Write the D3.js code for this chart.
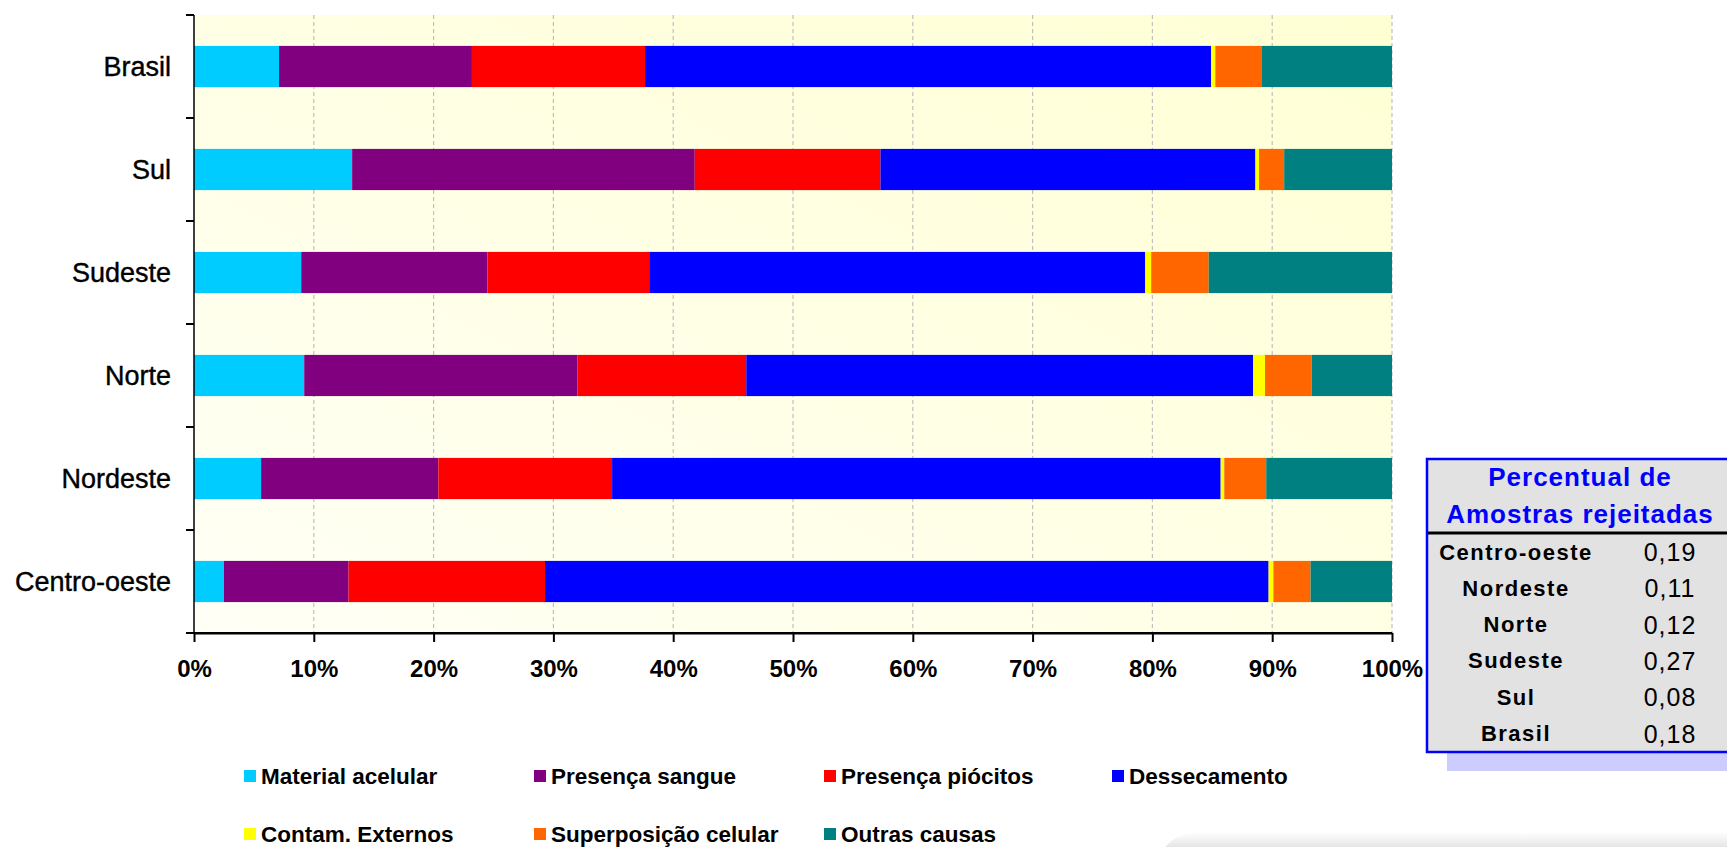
<!DOCTYPE html>
<html>
<head>
<meta charset="utf-8">
<script src="https://cdn.jsdelivr.net/npm/d3@7"></script>
<style>
  body { margin: 0; background: #ffffff; }
  svg { display: block; font-family: "Liberation Sans", Arial, sans-serif; }
</style>
</head>
<body>
<script>

// regions, top to bottom as in the chart
const regions = ["Brasil", "Sul", "Sudeste", "Norte", "Nordeste", "Centro-oeste"];

// causes of rejection (stack order, left to right)
const causes = ["Material acelular", "Presença sangue", "Presença piócitos", "Dessecamento",
                "Contam. Externos", "Superposição celular", "Outras causas"];
const causeColors = ["#00CCFF", "#800080", "#FF0000", "#0000FF", "#FFFF00", "#FF6600", "#008080"];

// percent values per region, same order as causes
const brasil      = [7.1, 16.1, 14.45, 47.25, 0.35, 3.9, 10.85];
const sul         = [13.2, 28.6, 15.5, 31.3, 0.3, 2.1, 9.0];
const sudeste     = [8.95, 15.55, 13.5, 41.4, 0.5, 4.8, 15.3];
const norte       = [9.2, 22.8, 14.1, 42.3, 1.0, 3.9, 6.7];
const nordeste    = [5.6, 14.8, 14.5, 50.8, 0.3, 3.5, 10.5];
const centroOeste = [2.5, 10.4, 16.4, 60.4, 0.4, 3.1, 6.8];
const regionValues = [brasil, sul, sudeste, norte, nordeste, centroOeste];

const xTicks = [0, 10, 20, 30, 40, 50, 60, 70, 80, 90, 100];

// side table
const tableTitle = ["Percentual de", "Amostras rejeitadas"];
const tableRegions = ["Centro-oeste", "Nordeste", "Norte", "Sudeste", "Sul", "Brasil"];
const tableValues = ["0,19", "0,11", "0,12", "0,27", "0,08", "0,18"];

const width = 1727, height = 847;
const plot = { left: 194, right: 1392, top: 15, bottom: 633 };

const svg = d3.select("body")
  .append("svg")
  .attr("width", width)
  .attr("height", height);

const defs = svg.append("defs");
const bg = defs.append("linearGradient")
  .attr("id", "plotbg")
  .attr("x1", 0).attr("y1", 1).attr("x2", 1).attr("y2", 0);
bg.append("stop").attr("offset", "0%").attr("stop-color", "#FFFFF6");
bg.append("stop").attr("offset", "100%").attr("stop-color", "#FFFFD4");

const shade = defs.append("linearGradient")
  .attr("id", "shade")
  .attr("x1", 0).attr("y1", 0).attr("x2", 0).attr("y2", 1);
shade.append("stop").attr("offset", "0%").attr("stop-color", "#ffffff");
shade.append("stop").attr("offset", "100%").attr("stop-color", "#9a9a9a");

// scales
let xScale = d3.scaleLinear()
  .domain([0, 100])
  .range([plot.left, plot.right]);

let yScale = d3.scaleBand()
  .domain(regions)
  .range([plot.top, plot.bottom])
  .padding(0);

const barH = yScale.bandwidth() * 0.4;

// plot background
svg.append("rect")
  .attr("x", plot.left)
  .attr("y", plot.top)
  .attr("width", plot.right - plot.left)
  .attr("height", plot.bottom - plot.top)
  .attr("fill", "url(#plotbg)");

// dashed vertical gridlines
svg.append("g")
  .selectAll("line")
  .data(xTicks.slice(1))
  .join("line")
    .attr("x1", d => xScale(d)).attr("x2", d => xScale(d))
    .attr("y1", plot.top).attr("y2", plot.bottom)
    .attr("stroke", "#C0C0C0")
    .attr("stroke-width", 1.2)
    .attr("stroke-dasharray", "4,3");

// stacked bars
const tableRows = regions.map((r, i) => {
  const row = { region: r };
  causes.forEach((c, j) => { row[c] = regionValues[i][j]; });
  return row;
});
const series = d3.stack().keys(causes)(tableRows);

svg.append("g")
  .selectAll("g")
  .data(series)
  .join("g")
    .attr("fill", (d, i) => causeColors[i])
  .selectAll("rect")
  .data(d => d)
  .join("rect")
    .attr("x", d => xScale(d[0]))
    .attr("width", d => xScale(d[1]) - xScale(d[0]))
    .attr("y", d => yScale(d.data.region) + (yScale.bandwidth() - barH) / 2)
    .attr("height", barH);

// left axis: ticks on band edges, labels centered
const edges = regions.map(r => yScale(r)).concat([plot.bottom]);
const yAxis = svg.append("g");
yAxis.append("line")
  .attr("x1", plot.left).attr("x2", plot.left)
  .attr("y1", plot.top).attr("y2", plot.bottom)
  .attr("stroke", "#000").attr("stroke-width", 1.5);
yAxis.selectAll(".tk")
  .data(edges)
  .join("line")
    .attr("x1", plot.left - 8).attr("x2", plot.left)
    .attr("y1", d => d).attr("y2", d => d)
    .attr("stroke", "#000").attr("stroke-width", 2);
yAxis.selectAll("text")
  .data(regions)
  .join("text")
    .attr("x", plot.left - 23)
    .attr("y", d => yScale(d) + yScale.bandwidth() / 2)
    .attr("text-anchor", "end")
    .attr("dominant-baseline", "central")
    .attr("font-size", "27px")
    .attr("fill", "#000")
    .attr("stroke", "#000")
    .attr("stroke-width", 0.4)
    .text(d => d);

// bottom axis
svg.append("g")
  .attr("transform", `translate(0,${plot.bottom})`)
  .call(d3.axisBottom(xScale)
          .tickValues(xTicks)
          .tickFormat(d => d + "%")
          .tickSizeInner(9)
          .tickSizeOuter(0)
          .tickPadding(18))
  .call(g => g.select(".domain").attr("stroke-width", 2.2))
  .call(g => g.selectAll(".tick line").attr("stroke-width", 2))
  .call(g => g.selectAll("text")
              .attr("font-size", "24px")
              .attr("font-weight", "bold")
              .attr("font-family", "'Liberation Sans', Arial, sans-serif")
              .attr("fill", "#000"));

svg.append("line")
  .attr("x1", plot.left - 8).attr("x2", plot.right)
  .attr("y1", plot.bottom).attr("y2", plot.bottom)
  .attr("stroke", "#000").attr("stroke-width", 2.2);

// legend, 4 columns
const legendX = [244, 534, 824, 1112];
const legendY = [776, 834];
const legend = svg.append("g")
  .selectAll("g")
  .data(causes)
  .join("g")
    .attr("transform", (d, i) => `translate(${legendX[i % 4]},${legendY[Math.floor(i / 4)]})`);
legend.append("rect")
  .attr("x", 0).attr("y", -6)
  .attr("width", 12).attr("height", 12)
  .attr("fill", (d, i) => causeColors[i]);
legend.append("text")
  .attr("x", 17)
  .attr("y", 0)
  .attr("dominant-baseline", "central")
  .attr("font-size", "22.5px")
  .attr("font-weight", "bold")
  .text(d => d);

// side table
const tbl = svg.append("g");
tbl.append("rect")
  .attr("x", 1447).attr("y", 753)
  .attr("width", width - 1447).attr("height", 18)
  .attr("fill", "#CCCCFF");
tbl.append("rect")
  .attr("x", 1427).attr("y", 459)
  .attr("width", width - 1427 + 10).attr("height", 293)
  .attr("fill", "#E2E2E2")
  .attr("stroke", "#0000FF")
  .attr("stroke-width", 2.5);
tbl.append("line")
  .attr("x1", 1428).attr("x2", width)
  .attr("y1", 533).attr("y2", 533)
  .attr("stroke", "#000").attr("stroke-width", 3);
tbl.selectAll(".title")
  .data(tableTitle)
  .join("text")
    .attr("x", 1580)
    .attr("y", (d, i) => 477 + i * 37)
    .attr("text-anchor", "middle")
    .attr("dominant-baseline", "central")
    .attr("font-size", "26px")
    .attr("font-weight", "bold")
    .attr("letter-spacing", "1px")
    .attr("fill", "#0000FF")
    .text(d => d);
tbl.selectAll(".reg")
  .data(tableRegions)
  .join("text")
    .attr("x", 1516)
    .attr("y", (d, i) => 552 + i * 36.3)
    .attr("text-anchor", "middle")
    .attr("dominant-baseline", "central")
    .attr("font-size", "22px")
    .attr("font-weight", "bold")
    .attr("letter-spacing", "1.5px")
    .attr("fill", "#000")
    .text(d => d);
tbl.selectAll(".val")
  .data(tableValues)
  .join("text")
    .attr("x", 1670)
    .attr("y", (d, i) => 552 + i * 36.3)
    .attr("text-anchor", "middle")
    .attr("dominant-baseline", "central")
    .attr("font-size", "25px")
    .attr("letter-spacing", "1px")
    .attr("fill", "#000")
    .text(d => d);

// grey slide frame peeking in at bottom right
svg.append("rect")
  .attr("x", 1160).attr("y", 832)
  .attr("width", 620).attr("height", 60)
  .attr("rx", 40)
  .attr("fill", "url(#shade)");

</script>
</body>
</html>
